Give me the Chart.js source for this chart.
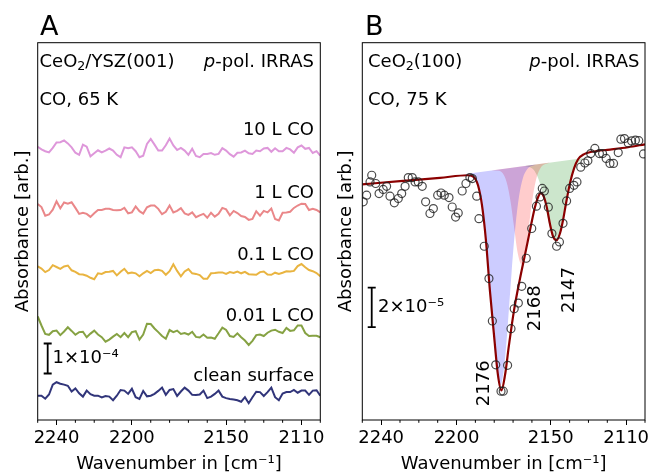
<!DOCTYPE html>
<html><head><meta charset="utf-8">
<script src="https://cdn.jsdelivr.net/npm/chart.js@4.4.1/dist/chart.umd.min.js"></script>
<style>
html,body{margin:0;padding:0;background:#fff;}
#wrap{position:relative;width:651px;height:475px;overflow:hidden;background:#fff;}
#cA{position:absolute;left:0;top:0;}
#cB{position:absolute;left:330px;top:0;}
</style></head><body>
<div id="wrap"><canvas id="cA" width="330" height="475"></canvas><canvas id="cB" width="321" height="475"></canvas></div>
<script>
// ---------- Shared axis ----------
const xMin = 2100, xMax = 2250, xStep = 10;
const xTickLabels = [2240, 2200, 2150, 2110];

// ---------- Panel A: spectra (absorbance in 1e-5, offset for display) ----------
const wavenumberA = [2250,2248,2246,2244,2242,2240,2238,2236,2234,2232,2230,2228,2226,2224,2222,2220,2218,2216,2214,2212,2210,2208,2206,2204,2202,2200,2198,2196,2194,2192,2190,2188,2186,2184,2182,2180,2178,2176,2174,2172,2170,2168,2166,2164,2162,2160,2158,2156,2154,2152,2150,2148,2146,2144,2142,2140,2138,2136,2134,2132,2130,2128,2126,2124,2122,2120,2118,2116,2114,2112,2110,2108,2106,2104,2102,2100];
const seriesNamesA = ['10 L CO', '1 L CO', '0.1 L CO', '0.01 L CO', 'clean surface'];
const offsetsA = [89.8, 69.8, 49.3, 28.7, 8.7];
const spec10L = [1.3,0.4,-0.2,-0.6,0.9,2.7,2.8,3.4,2.4,1.1,-0.7,-1.4,2.0,1.3,-1.9,-0.9,0.1,-0.6,0,0.7,0,-1.4,-2.2,1.1,0.8,1.1,-0.2,-2.2,-1.7,2.2,3.9,2.0,0,0,1.8,4.0,1.7,0.2,0.9,0,-1.4,0.6,-1.8,-2.2,-1.1,-1.1,-0.8,-1.4,-1.1,0.8,0,-1.2,-2.0,-0.7,-0.6,0,-0.9,-1.1,0,-0.2,0.7,0.9,-0.4,0.8,-0.2,-0.2,0.9,0.4,-0.7,1.1,1.7,0.6,0.9,-0.8,-0.2,-1.7];
const spec1L = [2.2,1.2,-1.7,-1.3,0.3,3.1,0.8,2.7,2.3,2.8,0.9,-1.1,-0.7,-1.1,-2.1,-0.9,0.2,0.2,0.6,0.6,0.2,0.1,0.2,0.9,-0.9,-0.6,1.4,-0.2,-1.0,1.1,1.7,1.7,0.6,-1.2,-0.4,1.7,-0.6,-0.1,0.8,-0.9,-1.4,-0.6,-2.2,-1.6,-1.1,-2.4,-0.7,-2.0,-1.1,0.9,0.4,-1.6,-0.1,-0.8,-1.8,-2.1,-3.1,-2.8,-0.2,-1.7,-0.1,-0.6,0.7,-2.8,-3.3,-0.7,-0.6,-0.4,0.9,1.7,2.3,2.2,0.2,0.6,0.2,-0.6];
const spec01L = [1.9,1.2,0,0.7,2.3,1.7,1.1,1.9,2.2,0.6,0.1,-0.7,-0.8,-1.2,-1.9,-2.4,-0.4,-0.6,0,0.1,0.4,-1.1,0.1,1.1,-0.4,-0.1,-0.4,-1.4,-0.4,0.4,-0.3,0.6,0.8,0.4,-0.9,0.3,2.6,0.4,-1.4,0.2,1.0,-0.4,-0.6,-1.0,-2.2,-2.2,-0.4,-0.3,-0.1,-0.1,-0.6,0,-0.3,0.2,-0.4,0.1,-0.7,-0.8,-0.9,0,0.2,-0.8,-0.9,-0.2,-0.6,-0.2,0.3,0.2,0.4,2.0,2.7,1.6,0.7,0.3,-0.3,-1.4];
const spec001L = [5.8,2.8,0,-0.3,0.9,1.1,-0.4,0.8,2.2,1.0,-0.3,0.6,0.7,-1.1,0.1,1.1,-0.2,-1.1,-2.6,-1.9,-0.9,0,-1.1,0.3,-1.1,0.6,0.9,-1.9,-0.2,3.4,3.3,1.8,0.6,-0.7,-1.6,1.3,0.6,1.1,0,0.3,-0.2,0.7,-1.0,-1.2,-0.2,-1.3,-1.2,-1.6,0.2,2.1,1.3,-0.7,-1.0,0.2,-1.1,-2.2,-3.7,-2.3,-0.4,-0.2,-0.7,0.4,1.1,1.4,0.7,0.3,2.0,1.0,1.2,2.8,2.8,0.3,-0.7,-0.6,-0.6,-1.1];
const specClean = [-0.6,-0.6,-1.6,-0.2,3.1,3.9,3.4,3.1,2.7,0.8,1.8,0.2,-0.9,1.1,-0.1,-0.6,-0.6,-1.2,-0.7,-0.9,-2.1,-0.6,1.3,1.1,0,1.7,-1.1,-1.7,1.0,-0.8,-0.6,0,1.0,2.1,-0.3,1.3,1.6,-0.7,0.8,2.1,1.1,-0.3,-0.4,-0.2,1.1,-1.4,-0.9,0,1.1,-0.9,-1.4,-1.7,-1.9,-2.1,-2.6,-1.1,-3.1,-1.1,0.7,0.6,-0.7,0.6,2.1,-1.1,-2.1,0.1,0.6,0.6,1.3,0.4,1.1,1.1,-0.3,1.1,1.2,-0.6];
const colorsA = ['#de97da', '#ea8789', '#e9b440', '#86a243', '#31357a'];
const scaleBarA = {x: 2244.7, y: [15.5, 25.5]};   // 1x10^-4 = 10 units

// ---------- Panel B: CeO2(100) (absorbance in 1e-6) ----------
const pointsWn = [2249.5,2247.7,2245.9,2245.0,2242.9,2241.1,2238.9,2237.1,2235.3,2233.0,2230.9,2229.1,2227.3,2225.6,2223.5,2222.0,2220.3,2218.2,2216.4,2214.1,2212.3,2210.0,2208.2,2206.5,2204.0,2202.3,2200.5,2199.1,2197.0,2195.0,2192.9,2191.6,2189.3,2188.1,2185.3,2182.8,2181.0,2179.2,2176.4,2175.2,2172.9,2171.1,2169.4,2167.2,2165.4,2163.0,2160.1,2157.6,2155.7,2154.5,2153.4,2151.3,2149.4,2146.9,2145.4,2143.5,2141.6,2140.0,2137.7,2136.1,2134.1,2131.9,2130.3,2128.8,2126.6,2124.2,2122.5,2120.6,2118.6,2116.7,2114.2,2112.8,2110.9,2108.9,2107.1,2105.1,2103.3,2100.8];
const pointsAbs = [110.6,114.0,120.7,124.1,119.9,114.8,116.9,118.5,113.5,110.1,112.3,114.8,118.5,122.9,122.9,120.7,120.7,118.5,110.6,104.7,107.2,114.0,115.1,114.0,112.8,108.0,102.9,105.0,116.1,119.9,122.9,122.4,113.5,102.1,88.1,71.7,50.2,28.0,14.6,14.6,27.7,46.3,56.4,59.3,67.8,82.0,97.1,108.4,113.1,117.4,116.1,107.9,94.5,88.1,90.3,99.7,111.1,117.4,119.0,120.7,128.2,130.3,131.4,135.1,137.7,135.1,135.1,132.6,130.1,130.1,135.6,142.4,142.7,140.5,141.5,141.9,141.6,134.9];
const fitWn = [2250,2230,2208.8,2193.9,2190.7,2188.6,2186.5,2184.4,2182.3,2180.1,2178.0,2176.2,2174.3,2172.2,2169.5,2166.3,2163.2,2160.5,2158.4,2156.3,2155.2,2153.6,2152.0,2150.4,2148.8,2146.9,2145.1,2143.5,2141.9,2139.8,2137.6,2135.5,2132.3,2128.1,2118.5,2109.0,2100];
const fitAbs = [119.5,121.1,122.8,124.1,123.1,119.0,108.9,91.1,65.7,42.9,22.6,15.0,22.6,37.8,55.6,71.8,86.0,98.7,107.9,114.0,115.0,113.0,107.4,99.2,93.1,91.1,94.7,101.3,109.9,120.1,127.7,132.2,134.8,136.0,137.1,138.3,139.8];
const baseWn = [2250, 2100];
const baseAbs = [117.6, 137.1];
const peak2176Wn = [2196.8,2192.8,2190.8,2188.8,2186.8,2184.8,2182.8,2180.8,2178.8,2176.8,2174.8,2172.8,2170.8,2168.8,2166.8,2164.8,2162.8,2160.8,2156.8];
const peak2176Abs = [124.5,124.3,123.1,119.5,111.0,95.6,72.9,47.0,25.7,17.5,26.2,48.0,74.5,97.7,113.6,122.6,126.7,128.5,129.7];
const peak2168Wn = [2181.5,2177.5,2175.5,2173.5,2171.5,2169.5,2167.5,2165.5,2163.5,2161.5,2159.5,2157.5,2155.5,2153.5,2149.5];
const peak2168Abs = [126.5,126.4,125.1,120.8,111.7,98.0,84.4,78.9,85.0,99.0,113.3,122.9,127.7,129.5,130.7];
const peak2147Wn = [2163.5,2161.5,2159.5,2157.5,2155.5,2153.5,2151.5,2149.5,2147.5,2145.5,2143.5,2141.5,2139.5,2137.5,2135.5,2133.5,2131.5];
const peak2147Abs = [128.6,128.3,127.2,124.3,119.1,111.1,102.1,94.7,91.9,95.2,103.1,112.7,121.2,126.9,130.3,131.9,132.8];
const peakLabels = ['2176', '2168', '2147'];
const peakColors = ['rgba(0,0,255,0.2)', 'rgba(255,0,0,0.2)', 'rgba(0,128,0,0.2)'];
const scaleBarB = {x: 2245, y: [47.1, 67.1]};   // 2x10^-5 = 20 units

// ---------- helpers ----------
const FONT = "'DejaVu Sans', 'Liberation Sans', sans-serif";
Chart.defaults.font.family = FONT;
Chart.defaults.color = '#000';
const zip = (xs, ys) => xs.map((x, i) => ({x, y: ys[i]}));

function xAxis(areaBottom, canvasH) {
  return {
    type: 'linear', min: xMin, max: xMax, reverse: true,
    ticks: {
      stepSize: xStep, autoSkip: false, maxRotation: 0, minRotation: 0, padding: 3,
      font: {size: 18, family: FONT}, color: '#000',
      callback: v => xTickLabels.includes(v) ? String(v) : ''
    },
    grid: {display: true, drawOnChartArea: false, drawTicks: true, tickLength: 5, tickWidth: 1,
      tickColor: c => (c.tick && xTickLabels.includes(c.tick.value)) ? '#000' : 'rgba(0,0,0,0)'},
    border: {display: false},
    title: {display: true, text: 'Wavenumber in [cm⁻¹]', font: {size: 18, family: FONT}, color: '#000', padding: {top: 0, bottom: 0}},
    afterFit: s => { s.height = canvasH - areaBottom; }
  };
}
function yAxis(max, width, titlePad) {
  return {
    type: 'linear', min: 0, max: max,
    ticks: {display: false}, grid: {display: false}, border: {display: false},
    title: {display: true, text: 'Absorbance [arb.]', font: {size: 18, family: FONT}, color: '#000', padding: {top: titlePad, bottom: 0}},
    afterFit: s => { s.width = width; }
  };
}
const frameTicks = {
  id: 'frameTicks',
  afterDraw(chart) {
    const {ctx, chartArea: a} = chart;
    const x = chart.scales.x;
    ctx.save();
    ctx.strokeStyle = '#000'; ctx.lineWidth = 1;
    ctx.strokeRect(a.left, a.top, a.right - a.left, a.bottom - a.top);
    x.ticks.forEach(t => {
      if (!xTickLabels.includes(t.value)) {
        const px = x.getPixelForValue(t.value);
        ctx.beginPath(); ctx.moveTo(px, a.bottom); ctx.lineTo(px, a.bottom + 2.8); ctx.stroke();
      }
    });
    ctx.restore();
  }
};
function textPlugin(items) {
  return {
    id: 'texts',
    afterDraw(chart) {
      const ctx = chart.ctx;
      ctx.save();
      ctx.fillStyle = '#000';
      items.forEach(it => {
        const size = it.size || 18;
        if (it.parts) {
          const fontOf = p => (p.italic ? 'italic ' : '') + (p.sub ? size * 0.7 : size) + 'px ' + FONT;
          let w = 0;
          it.parts.forEach(p => { ctx.font = fontOf(p); w += ctx.measureText(p.t).width; });
          let x = it.align === 'right' ? it.x - w : it.x;
          ctx.textBaseline = 'alphabetic'; ctx.textAlign = 'left';
          it.parts.forEach(p => { ctx.font = fontOf(p); ctx.fillText(p.t, x, it.y + (p.sub ? size * 0.2 : 0)); x += ctx.measureText(p.t).width; });
        } else if (it.rot) {
          ctx.save();
          ctx.font = size + 'px ' + FONT;
          ctx.translate(it.x, it.y); ctx.rotate(-Math.PI / 2);
          ctx.textAlign = 'center'; ctx.textBaseline = 'middle';
          ctx.fillText(it.t, 0, 0);
          ctx.restore();
        } else {
          ctx.font = size + 'px ' + FONT;
          ctx.textAlign = it.align || 'left'; ctx.textBaseline = 'alphabetic';
          ctx.fillText(it.t, it.x, it.y);
        }
      });
      ctx.restore();
    }
  };
}

// ---------- Panel A ----------
const specsA = [spec10L, spec1L, spec01L, spec001L, specClean];
const dsA = specsA.map((s, i) => ({
  label: seriesNamesA[i], data: zip(wavenumberA, s.map(v => v + offsetsA[i])),
  borderColor: colorsA[i], borderWidth: 2, pointRadius: 0, tension: 0, fill: false
}));
dsA.push({label: 'scale', data: scaleBarA.y.map(y => ({x: scaleBarA.x, y})), borderColor: '#000', borderWidth: 1.8,
  pointStyle: 'line', pointRadius: 4, pointBorderWidth: 1.8, pointBorderColor: '#000', fill: false});

new Chart(document.getElementById('cA'), {
  type: 'line',
  data: {datasets: dsA},
  options: {
    responsive: false, animation: false, devicePixelRatio: 1,
    layout: {padding: {left: 0, right: 9.7, top: 42.7, bottom: 0}},
    plugins: {legend: {display: false}, tooltip: {enabled: false}},
    scales: {x: xAxis(420, 475), y: yAxis(125.77, 37.7, 12.2)}
  },
  plugins: [frameTicks, textPlugin([
    {t: 'A', x: 40, y: 35, size: 27},
    {parts: [{t: 'CeO'}, {t: '2', sub: true}, {t: '/YSZ(001)'}], x: 39.5, y: 66.5},
    {parts: [{t: 'p', italic: true}, {t: '-pol. IRRAS'}], x: 314, y: 66.5, align: 'right'},
    {t: 'CO, 65 K', x: 39.5, y: 104.5},
    {t: '10 L CO', x: 314, y: 135, align: 'right'},
    {t: '1 L CO', x: 314, y: 198, align: 'right'},
    {t: '0.1 L CO', x: 314, y: 260, align: 'right'},
    {t: '0.01 L CO', x: 314, y: 320.7, align: 'right'},
    {t: 'clean surface', x: 314, y: 380.5, align: 'right'},
    {t: '1×10⁻⁴', x: 52.5, y: 363.3}
  ])]
});

// ---------- Panel B ----------
const dsB = [
  {label: 'data', data: zip(pointsWn, pointsAbs), showLine: false, pointStyle: 'circle', pointRadius: 4,
    pointBorderColor: 'rgba(30,30,30,0.8)', pointBackgroundColor: 'rgba(0,0,0,0)', pointBorderWidth: 1.2, order: 0},
  {label: 'fit', data: zip(fitWn, fitAbs), borderColor: '#8b0000', borderWidth: 2.2, pointRadius: 0,
    cubicInterpolationMode: 'monotone', fill: false, order: 1},
  {label: peakLabels[0], data: zip(peak2176Wn, peak2176Abs), borderWidth: 0, pointRadius: 0, cubicInterpolationMode: 'monotone',
    backgroundColor: peakColors[0], fill: 6, order: 2},
  {label: peakLabels[1], data: zip(peak2168Wn, peak2168Abs), borderWidth: 0, pointRadius: 0, cubicInterpolationMode: 'monotone',
    backgroundColor: peakColors[1], fill: 6, order: 3},
  {label: peakLabels[2], data: zip(peak2147Wn, peak2147Abs), borderWidth: 0, pointRadius: 0, cubicInterpolationMode: 'monotone',
    backgroundColor: peakColors[2], fill: 6, order: 4},
  {label: 'scale', data: scaleBarB.y.map(y => ({x: scaleBarB.x, y})), borderColor: '#000', borderWidth: 1.8,
    pointStyle: 'line', pointRadius: 4, pointBorderWidth: 1.8, pointBorderColor: '#000', fill: false, order: 0},
  {label: 'baseline', data: zip(baseWn, baseAbs), borderWidth: 0, pointRadius: 0, fill: false, order: 6}
];

new Chart(document.getElementById('cB'), {
  type: 'line',
  data: {datasets: dsB},
  options: {
    responsive: false, animation: false, devicePixelRatio: 1,
    layout: {padding: {left: 0, right: 6, top: 42.7, bottom: 0}},
    plugins: {legend: {display: false}, tooltip: {enabled: false}},
    scales: {x: xAxis(420, 475), y: yAxis(191.3, 32.3, 5.2)}
  },
  plugins: [frameTicks, textPlugin([
    {t: 'B', x: 35, y: 35, size: 27},
    {parts: [{t: 'CeO'}, {t: '2', sub: true}, {t: '(100)'}], x: 38, y: 66.5},
    {parts: [{t: 'p', italic: true}, {t: '-pol. IRRAS'}], x: 309.5, y: 66.5, align: 'right'},
    {t: 'CO, 75 K', x: 38, y: 104.5},
    {t: '2×10⁻⁵', x: 48, y: 311.7},
    {t: peakLabels[0], x: 154.5, y: 383.3, rot: true},
    {t: peakLabels[1], x: 205.5, y: 308.3, rot: true},
    {t: peakLabels[2], x: 239.5, y: 290, rot: true}
  ])]
});
</script>
</body></html>
